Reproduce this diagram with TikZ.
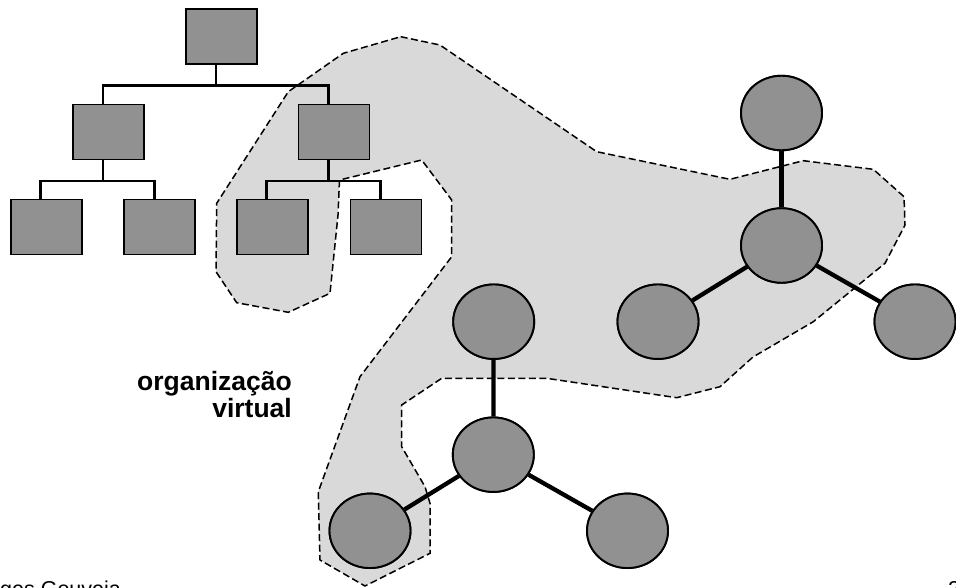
\documentclass[tikz,border=0pt]{standalone}
\usepackage{fontspec}
\setmainfont{Liberation Sans}
\usetikzlibrary{shapes.geometric}
\definecolor{unitgray}{RGB}{145,145,145}
\definecolor{zonegray}{RGB}{217,217,217}
\tikzstyle{unit}=[draw,fill=unitgray,line width=1.9pt,inner sep=0pt,minimum width=71pt,minimum height=55pt]
\tikzstyle{peer}=[ellipse,draw,fill=unitgray,line width=1.9pt,inner sep=0pt,minimum width=81pt,minimum height=74.5pt]
\tikzstyle{tree}=[line width=2.7pt]
\tikzstyle{link}=[line width=4.3pt]
\tikzstyle{zone}=[fill=zonegray,line width=1.5pt,dash pattern=on 7pt off 3.5pt]
\tikzstyle{foot}=[inner sep=0pt,font=\fontsize{21.5}{24}\selectfont]
\tikzstyle{slide}=[x=1pt,y=-1pt]

\begin{document}
\begin{tikzpicture}[slide]
  \useasboundingbox (0,0) rectangle (956,587);
  % virtual organisation
  \draw[zone] (400.7,36.7) -- (440,45) -- (596.7,151.7) -- (730,179.3) -- (803.3,160.7)
    -- (873.3,169.3) -- (904,196.7) -- (905,225) -- (885,263.3) -- (813.3,321.7)
    -- (753,357) -- (720,386.7) -- (676.7,397.7) -- (546.7,378.3) -- (441.7,378.3)
    -- (401.7,405) -- (401.7,446.7) -- (425,486.7) -- (430,503.3) -- (430,553.3)
    -- (365,586) -- (320,560) -- (318.3,491.7) -- (360,376.7) -- (451.7,256.7)
    -- (451.7,200) -- (421.7,160) -- (339.5,180) -- (338,215) -- (330,293.3)
    -- (288.3,312.3) -- (236.7,302.7) -- (216,271.7) -- (216.7,203.3)
    -- (288.3,91.7) -- (343.3,53.3) -- cycle;
  % hierarchy
  \node[unit] (top) at (221.5,36.5) {};
  \node[unit] (mgrA) at (108.5,132) {};
  \node[unit] (mgrB) at (334,132) {};
  \foreach \n/\x in {unitA/46.3, unitB/159.7, unitC/272.3, unitD/386}
    {\node[unit] (\n) at (\x,227) {};}
  \foreach \a/\b in {top/mgrA, top/mgrB, mgrA/unitA, mgrA/unitB, mgrB/unitC, mgrB/unitD}
    {\draw[tree] ([xshift=-5.5pt]\a.south) -- ++(0,20.5) -| ([xshift=-5.5pt]\b.north);}
  % networks
  \node[peer] (hubR) at (781.5,245.5) {};
  \node[peer] (topR) at (781.5,113) {};
  \node[peer] (leftR) at (658,321.7) {};
  \node[peer] (rightR) at (915,321.7) {};
  \node[peer] (hubB) at (493.3,454.7) {};
  \node[peer] (topB) at (493.7,321.7) {};
  \node[peer] (leftB) at (370,530.8) {};
  \node[peer] (rightB) at (627.5,530.8) {};
  \foreach \h/\p in {hubR/topR, hubR/leftR, hubR/rightR, hubB/topB, hubB/leftB, hubB/rightB}
    {\draw[link] (\h) -- (\p);}
  \foreach \p in {hubR, topR, leftR, rightR, hubB, topB, leftB, rightB}
    {\node[peer] at (\p) {};}
  \node[anchor=east,align=right,inner sep=0pt,font=\bfseries\fontsize{26.5}{27}\selectfont]
    (label) at (292,395) {organização\\virtual};
  \node[foot,anchor=base west] (author) at (0,596) {ges Gouveia};
  \node[foot,anchor=base west] (page) at (948,596) {2};
\end{tikzpicture}
\end{document}
